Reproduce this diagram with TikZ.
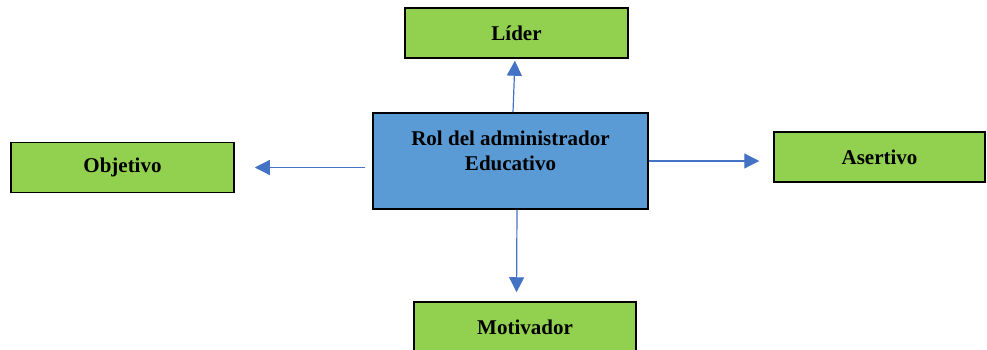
\documentclass[tikz,border=0pt]{standalone}
\usepackage{fontspec}
\setmainfont{Liberation Serif}
\usetikzlibrary{arrows.meta,positioning}
\definecolor{verde}{HTML}{92D050}
\definecolor{azul}{HTML}{5B9BD5}
\definecolor{flecha}{HTML}{4472C4}
\begin{document}
\begin{tikzpicture}[x=1pt,y=-1pt,>={Triangle[length=15pt,width=15pt]},
	caja/.style={draw=black,line width=1.5pt,fill=verde,minimum width=223pt,minimum height=50pt,inner sep=0pt,font=\fontsize{21}{25}\selectfont\bfseries},
	flechas/.style={->,draw=flecha,line width=1.2pt}]
		\useasboundingbox (0,0) rectangle (987,350);
		\path
		+(516.5,33)    node[caja]  (lider) {Líder}
		+(122.5,167.5) node[caja]  (obj) {Objetivo}
		+(879.5,157)   node[caja,minimum width=211pt]  (ase) {Asertivo}
		+(525,327)     node[caja,minimum width=222pt]  (mot) {Motivador}
		+(510.5,161)   node[caja,fill=azul,minimum width=275pt,minimum height=96pt]  (rol) {}
		;
		\node[below=18pt of rol.north,align=center,inner sep=0pt,font=\fontsize{21}{25}\selectfont\bfseries] (roltexto) {Rol del administrador\\Educativo};
		\draw[flechas,shorten >=2pt] ([xshift=2.5pt]rol.north)--([xshift=-1.5pt]lider.south);
		\draw[flechas,shorten <=7pt,shorten >=20pt] (rol.west |- obj.east)--(obj.east);
		\draw[flechas,shorten >=14pt] (rol.east)--(rol.east -| ase.west);
		\draw[flechas,shorten >=9pt] ([xshift=6.5pt]rol.south)--([xshift=-8.5pt]mot.north);
		\end{tikzpicture}
\end{document}
